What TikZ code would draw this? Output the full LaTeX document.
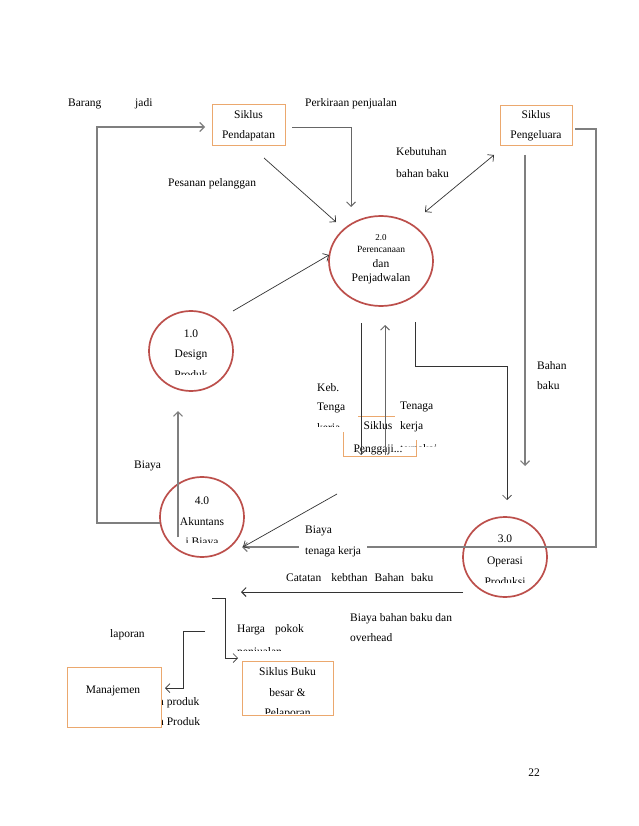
\documentclass[tikz,border=0pt]{standalone}
\usepackage{fontspec}
\setmainfont{Liberation Serif}
\usetikzlibrary{arrows.meta,shapes.geometric}
\definecolor{procred}{HTML}{BC4F4B}
\definecolor{boxorange}{HTML}{EBA86E}
\definecolor{linek}{HTML}{333333}
\definecolor{lineg}{HTML}{7F7F7F}
\newcommand\lblfont{\fontsize{11.5}{14}\selectfont}
\newcommand\boxfnt{\fontsize{11.5}{20}\selectfont}
\newcommand\tinyfnt{\fontsize{9}{11}\selectfont}
\begin{document}
\begin{tikzpicture}[x=1pt,y=-1pt,
  lbl/.style={font=\lblfont, inner sep=0pt, anchor=base west},
  clbl/.style={font=\lblfont, inner sep=0pt, anchor=base},
  proc/.style={ellipse, draw=procred, line width=1.7pt, inner sep=0pt},
  ebox/.style={draw=boxorange, line width=1pt, fill=white, inner sep=0pt, align=center, font=\boxfnt},
  cover/.style={fill=white, draw=none},
  flow/.style={draw=linek, line width=0.7pt, -{Straight Barb[length=4.5pt,width=9pt]}},
  gflow/.style={flow, draw=lineg, line width=1.1pt},
  plain/.style={draw=linek, line width=0.7pt},
]
\fill[white] (0,0) rectangle (638,826);
\useasboundingbox (0,0) rectangle (638,826);

% boxes
\node[ebox, minimum width=73pt, minimum height=41pt] (pend) at (248.5,125.5) {Siklus\\Pendapatan};
\node[ebox, minimum width=72pt, minimum height=40pt] (peng) at (536,126) {Siklus\\Pengeluara};
\node[ebox, minimum width=73pt, minimum height=40pt] (gaji) at (379.5,436) {};
\node[cover, minimum width=46pt, minimum height=58pt, anchor=north west] (kebcover) at (312,374) {};
\node[cover, minimum width=50pt, minimum height=45pt, anchor=north west] (tencover) at (395,395) {};
\node[ebox, minimum width=91pt, minimum height=54pt] (buku) at (287.5,688) {};

% labels
\node[lbl] (barang) at (68,107) {Barang};
\node[lbl] (jadi) at (135,107) {jadi};
\node[lbl] (perk) at (305,107) {Perkiraan penjualan};
\node[lbl] (keb1) at (396,156) {Kebutuhan};
\node[lbl] (keb2) at (396,178) {bahan baku};
\node[lbl] (pes) at (168,187) {Pesanan pelanggan};
\node[lbl] (bahan1) at (537,369) {Bahan};
\node[lbl] (bahan2) at (537,389) {baku};
\node[lbl] (ktk1) at (317,391) {Keb.};
\node[lbl] (ktk2) at (317,410) {Tenga};
\begin{scope}\clip (310,420) rectangle (358,426);
\node[lbl] (ktk3) at (317,431) {kerja};
\end{scope}
\node[lbl] (tk1) at (400,409) {Tenaga};
\node[lbl] (tk2) at (400,429) {kerja};
\begin{scope}\clip (396,440) rectangle (450,446);
\node[lbl] (tk3) at (400,452) {terpakai};
\end{scope}
\node[clbl] (gaji1) at (378,429) {Siklus};
\node[clbl] (gaji2) at (378,452) {Penggaji...};
\node[lbl] (biaya) at (134,468) {Biaya};
\node[lbl] (btk1) at (305,533) {Biaya};
\node[lbl] (cat) at (286,581) {Catatan\hspace{10pt}kebthan\hspace{7pt}Bahan\hspace{7pt}baku};
\node[lbl] (bbb1) at (350,621) {Biaya bahan baku dan};
\node[lbl] (bbb2) at (350,641) {overhead};
\node[lbl] (hpp1) at (237,632) {Harga\hspace{10pt}pokok};
\begin{scope}\clip (230,640) rectangle (320,650);
\node[lbl] (hpp2) at (237,655) {penjualan};
\end{scope}
\node[lbl] (lap) at (110,637) {laporan};
\node[lbl] (np1) at (158,705) {n produk};
\node[lbl] (np2) at (158,725) {n Produk};
\node[ebox, minimum width=94pt, minimum height=60pt] (man) at (114.5,697) {};
\node[clbl] (man1) at (113,693) {Manajemen};
\node[clbl] (buku1) at (287.5,675) {Siklus Buku};
\node[clbl] (buku2) at (287.5,696) {besar \&};
\begin{scope}\clip (245,700) rectangle (330,713);
\node[clbl] (buku3) at (287.5,716) {Pelaporan};
\end{scope}
\node[clbl] (pg) at (534,776) {22};

% process circles
\node[proc, minimum width=104pt, minimum height=90pt] (p2) at (381,261) {};
\node[proc, minimum width=84pt, minimum height=80pt] (p1) at (191,351) {};
\node[proc, minimum width=84pt, minimum height=80pt] (p4) at (202,517) {};
\node[proc, minimum width=84pt, minimum height=80pt] (p3) at (505,557) {};

\node[clbl, font=\tinyfnt] (p2a) at (381,240.5) {2.0};
\node[clbl, font=\fontsize{9.5}{11}\selectfont] (p2b) at (381,252) {Perencanaan};
\node[clbl] (p2c) at (381,267) {dan};
\node[clbl] (p2d) at (381,281) {Penjadwalan};

\node[clbl] (p1a) at (191,337) {1.0};
\node[clbl] (p1b) at (191,357) {Design};
\begin{scope}\clip (160,365) rectangle (222,374);
\node[clbl] (p1c) at (191,378) {Produk};
\end{scope}

\node[clbl] (p4a) at (202,504) {4.0};
\node[clbl] (p4b) at (202,525) {Akuntans};
\begin{scope}\clip (170,533) rectangle (235,542);
\node[clbl] (p4c) at (202,545) {i Biaya};
\end{scope}

\node[clbl] (p3a) at (505,542) {3.0};
\node[clbl] (p3b) at (505,564) {Operasi};
\begin{scope}\clip (470,572) rectangle (540,582);
\node[clbl] (p3c) at (505,585) {Produksi};
\end{scope}

% connector end points
\coordinate (a1) at (160,523);
\coordinate (a2) at (97,523);
\coordinate (a3) at (97,127);
\coordinate (a4) at (205,127);
\coordinate (b1) at (292,127);
\coordinate (b2) at (351,127);
\coordinate (b3) at (351,207);
\coordinate (c1) at (264,158);
\coordinate (c2) at (336,222);
\coordinate (d1) at (425,212);
\coordinate (d2) at (494,155);
\coordinate (e1) at (233,311);
\coordinate (e2) at (329,255);
\coordinate (f1) at (361,323);
\coordinate (f2) at (361,455);
\coordinate (g1) at (385,455);
\coordinate (g2) at (385,325);
\coordinate (h1) at (415,322);
\coordinate (h2) at (415,366);
\coordinate (h3) at (507,366);
\coordinate (h4) at (507,500);
\coordinate (i1) at (525,155);
\coordinate (i2) at (525,466);
\coordinate (j1) at (575,129);
\coordinate (j2) at (596,129);
\coordinate (j3) at (596,547);
\coordinate (j4) at (242,547);
\coordinate (k1) at (337,494);
\coordinate (k2) at (243,547);
\coordinate (l1) at (178,537);
\coordinate (l2) at (178,411);
\coordinate (m1) at (463,592);
\coordinate (m2) at (241,592);
\coordinate (n1) at (212,598);
\coordinate (n2) at (225,598);
\coordinate (n3) at (225,658);
\coordinate (n4) at (238,658);
\coordinate (o1) at (205,631);
\coordinate (o2) at (183,631);
\coordinate (o3) at (183,688);
\coordinate (o4) at (165,688);

% connectors
\draw[gflow] (a1) -- (a2) -- (a3) -- (a4);
\draw[gflow, draw=lineg!80!black, line width=0.9pt] (b1) -- (b2) -- (b3);
\draw[flow] (c1) -- (c2);
\draw[flow, {Straight Barb[length=4.5pt,width=9pt]}-{Straight Barb[length=4.5pt,width=9pt]}] (d1) -- (d2);
\draw[flow] (e1) -- (e2);
\draw[flow] (f1) -- (f2);
\draw[gflow, draw=lineg!80!black, line width=0.9pt] (g1) -- (g2);
\draw[flow] (h1) -- (h2) -- (h3) -- (h4);
\draw[gflow] (i1) -- (i2);
\draw[gflow] (j1) -- (j2) -- (j3) -- (j4);
\draw[flow] (k1) -- (k2);
\draw[gflow] (l1) -- (l2);
\draw[flow, line width=0.9pt] (m1) -- (m2);
\draw[flow] (n1) -- (n2) -- (n3) -- (n4);
\draw[flow] (o1) -- (o2) -- (o3) -- (o4);

\node[lbl, fill=white, inner xsep=6pt, inner ysep=2pt] (btk2) at (299,554) {tenaga kerja};
\end{tikzpicture}
\end{document}
